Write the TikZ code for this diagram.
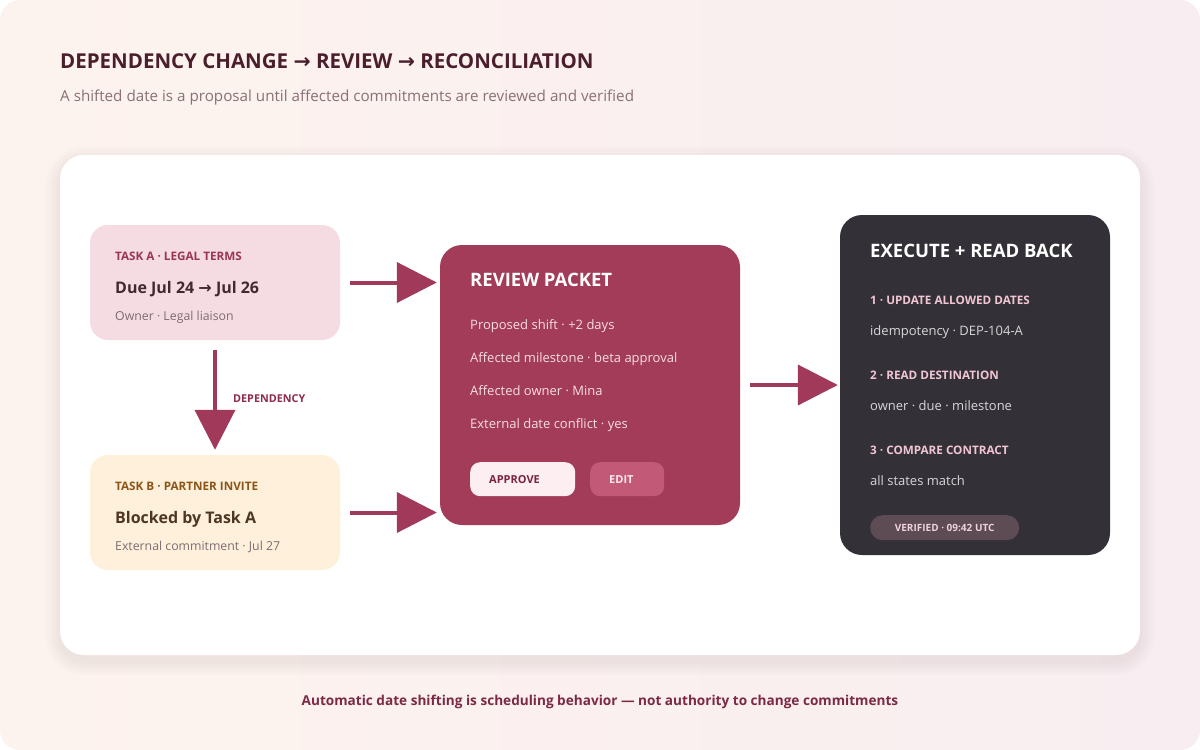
\documentclass[tikz,border=0pt]{standalone}
\usepackage{fontspec}
\setmainfont{Open Sans}
\newfontfamily\symfont{DejaVu Sans}
\usetikzlibrary{arrows.meta,positioning}

\definecolor{ink}{HTML}{4A1E2C}
\definecolor{subink}{HTML}{8A7078}
\definecolor{bgleft}{HTML}{FDF3EE}
\definecolor{bgright}{HTML}{F8EDF0}
\definecolor{taskafill}{HTML}{F5DCE3}
\definecolor{taskatag}{HTML}{9A3557}
\definecolor{taskamain}{HTML}{43282F}
\definecolor{taskbfill}{HTML}{FEF0DB}
\definecolor{taskbtag}{HTML}{8B5517}
\definecolor{taskbmain}{HTML}{4D3626}
\definecolor{cardnote}{HTML}{7F6B72}
\definecolor{arrowred}{HTML}{A13A5A}
\definecolor{deplabel}{HTML}{8E2C4C}
\definecolor{berry}{HTML}{A33C58}
\definecolor{berryline}{HTML}{F6DDE4}
\definecolor{approvefill}{HTML}{FDEEF1}
\definecolor{approveink}{HTML}{7A2341}
\definecolor{editfill}{HTML}{C25A77}
\definecolor{editink}{HTML}{FCE8EE}
\definecolor{slate}{HTML}{333137}
\definecolor{stephead}{HTML}{F2C5D3}
\definecolor{stepnote}{HTML}{DAD5D9}
\definecolor{badgefill}{HTML}{5D4C54}
\definecolor{badgeink}{HTML}{F0D2DB}
\definecolor{footink}{HTML}{7B2945}
\definecolor{shadowc}{HTML}{8A5A68}

\newcommand{\arr}{{\symfont\bfseries →}}

\begin{document}
\begin{tikzpicture}[x=1pt,y=-1pt,
  card/.style={rounded corners=18pt, minimum width=250pt, minimum height=115pt, inner sep=0pt},
  bigcard/.style={rounded corners=22pt, inner sep=0pt},
  txt/.style={anchor=base west, inner sep=0pt},
  tag/.style={txt, font=\fontsize{11.7}{13}\selectfont\bfseries},
  headline/.style={txt, font=\fontsize{16}{19}\selectfont\bfseries},
  note/.style={txt, font=\fontsize{12.3}{15}\selectfont},
  cardtitle/.style={txt, font=\fontsize{18.5}{21}\selectfont\bfseries, text=white},
  line/.style={txt, font=\fontsize{13}{15}\selectfont},
  button/.style={rounded corners=10pt, minimum height=34pt, inner xsep=19pt, inner ysep=0pt, align=left, font=\fontsize{11}{13}\selectfont\bfseries},
  flow/.style={draw=arrowred, line width=4pt, -{Triangle[length=40pt,width=40pt]}}]
\useasboundingbox (0,0) rectangle (1200,750);
\fill[white] (0,0) rectangle (1200,750);
\shade[left color=bgleft, right color=bgright, rounded corners=20pt] (0,0) rectangle (1200,750);

% heading
\node[txt, text=ink, font=\fontsize{20.5}{24}\selectfont\bfseries] (title) at (60,68)
  {DEPENDENCY CHANGE \arr{} REVIEW \arr{} RECONCILIATION};
\node[txt, text=subink, font=\fontsize{15.2}{18}\selectfont] (subtitle) at (60,101)
  {A shifted date is a proposal until affected commitments are reviewed and verified};

% white panel with soft shadow
\foreach \s in {14,11,8,5,2}
  \fill[shadowc, opacity=0.02, rounded corners={24+\s}] ({60-\s},{155-\s+6}) rectangle ({1140+\s},{655+\s+6});
\fill[white, rounded corners=24pt] (60,155) rectangle (1140,655);

% task cards
\node[card, fill=taskafill] (taskA) at (215,282.5) {};
\node[tag, text=taskatag] (taskAtag) at (115,260) {TASK A · LEGAL TERMS};
\node[headline, text=taskamain] (taskAdue) at (115,293) {Due Jul 24 \arr{} Jul 26};
\node[note, text=cardnote] (taskAowner) at (115,320) {Owner · Legal liaison};

\node[card, fill=taskbfill] (taskB) at (215,512.5) {};
\node[tag, text=taskbtag] (taskBtag) at (115,490) {TASK B · PARTNER INVITE};
\node[headline, text=taskbmain] (taskBmain) at (115,523) {Blocked by Task A};
\node[note, text=cardnote] (taskBnote) at (115,550) {External commitment · Jul 27};

% review packet
\node[bigcard, fill=berry, minimum width=300pt, minimum height=280pt] (review) at (590,385) {};
\node[cardtitle] (reviewtitle) at (470,286) {REVIEW PACKET};
\foreach \txtline [count=\i] in {Proposed shift · +2 days, Affected milestone · beta approval, Affected owner · Mina, External date conflict · yes}
  \node[line, text=berryline] (reviewline\i) at (470,{329+33*(\i-1)}) {\txtline};
\node[button, fill=approvefill, text=approveink, text width=67pt, anchor=north west] (approve) at (470,462) {APPROVE};
\node[button, fill=editfill, text=editink, text width=36pt, anchor=north west] (edit) at (590,462) {EDIT};

% execute + read back
\node[bigcard, fill=slate, minimum width=270pt, minimum height=340pt] (exec) at (975,385) {};
\node[cardtitle] (exectitle) at (870,257) {EXECUTE + READ BACK};
\node[tag, text=stephead] (step1) at (870,304) {1 · UPDATE ALLOWED DATES};
\node[line, text=stepnote] (step1note) at (870,335) {idempotency · DEP-104-A};
\node[tag, text=stephead] (step2) at (870,379) {2 · READ DESTINATION};
\node[line, text=stepnote] (step2note) at (870,410) {owner · due · milestone};
\node[tag, text=stephead] (step3) at (870,454) {3 · COMPARE CONTRACT};
\node[line, text=stepnote] (step3note) at (870,485) {all states match};
\node[fill=badgefill, text=badgeink, rounded corners=12.5pt, minimum width=149pt, minimum height=25pt, inner sep=0pt,
  font=\fontsize{10}{12}\selectfont\bfseries, anchor=north west] (badge) at (870,515) {VERIFIED · 09:42 UTC};

% connectors
\draw[flow, shorten <=10pt, shorten >=3pt] (taskA.east) -- (taskA.east -| review.west);
\draw[flow, shorten <=10pt, shorten >=3pt] (taskB.east) -- (taskB.east -| review.west);
\draw[flow, shorten <=10pt, shorten >=5pt] (taskA.south) -- (taskB.north);
\node[txt, text=deplabel, font=\fontsize{10.8}{12}\selectfont\bfseries] (deplbl) at (233,402) {DEPENDENCY};
\draw[flow, shorten <=10pt, shorten >=2pt] (review.east) -- (exec.west);

% footer
\node[text=footink, font=\fontsize{13.6}{16}\selectfont\bfseries, anchor=base] (footer) at (600,705)
  {Automatic date shifting is scheduling behavior — not authority to change commitments};
\end{tikzpicture}
\end{document}
